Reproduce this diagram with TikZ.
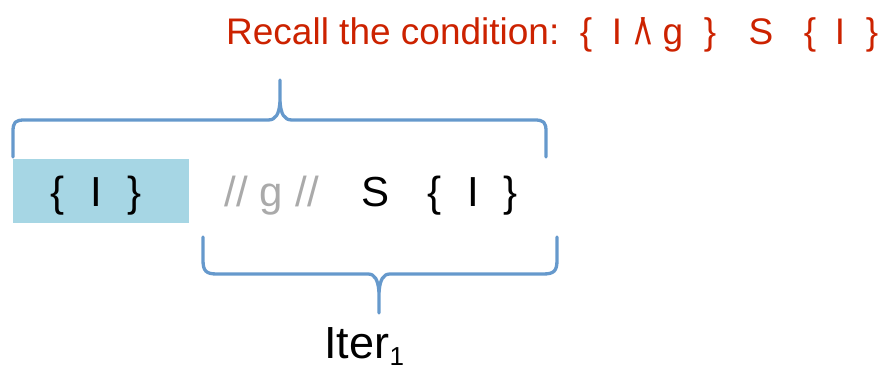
\documentclass[tikz,border=0pt]{standalone}
\usepackage{fontspec}
\setmainfont{Liberation Sans}
\definecolor{braceblue}{RGB}{102,153,204}
\definecolor{boxfill}{RGB}{166,214,228}
\definecolor{recallred}{RGB}{204,34,0}
\definecolor{slashgray}{RGB}{170,170,170}
\tikzset{
  bracestroke/.style={draw=braceblue, line width=3.3pt, line cap=round, line join=round},
  redtok/.style={text=recallred, font=\fontsize{37}{40}\selectfont, inner sep=0pt, anchor=base},
  blacktok/.style={text=black, font=\fontsize{42}{46}\selectfont, inner sep=0pt, anchor=base},
  graytok/.style={text=slashgray, font=\fontsize{42}{46}\selectfont, inner sep=0pt, anchor=base},
}
\begin{document}
\begin{tikzpicture}[x=1pt,y=-1pt]
\useasboundingbox (0,0) rectangle (893,371);
% red condition
\node[redtok, anchor=base west] (recall) at (226,45) {Recall the condition:};
\node[redtok] (r1) at (586,45) {\{};
\node[redtok] (r2) at (617,45) {I};
\node[redtok] (r3) at (643,45) {/\kern-0.12em\textbackslash};
\node[redtok] (r4) at (673,45) {g};
\node[redtok] (r5) at (710,45) {\}};
\node[redtok] (r6) at (761,45) {S};
\node[redtok] (r7) at (810,45) {\{};
\node[redtok] (r8) at (840,45) {I};
\node[redtok] (r9) at (872,45) {\}};
% box
\fill[boxfill] (13,159) rectangle (189,223);
\node[blacktok] (b1) at (58,207) {\{};
\node[blacktok] (b2) at (96,207) {I};
\node[blacktok] (b3) at (135,207) {\}};
\node[graytok] (g1) at (236,207) {//};
\node[graytok] (g2) at (271,207) {g};
\node[graytok] (g3) at (307,207) {//};
\node[blacktok] (s1) at (376,207) {S};
\node[blacktok] (s2) at (435,207) {\{};
\node[blacktok] (s3) at (473,207) {I};
\node[blacktok] (s4) at (511,207) {\}};
% top brace
\draw[bracestroke] (13,157) -- (13,132) .. controls (13,122) and (15,120) .. (25,120)
  -- (268,120) .. controls (276,120) and (279,114) .. (280,102) -- (280,80);
\draw[bracestroke] (280,102) .. controls (281,114) and (284,120) .. (292,120)
  -- (534,120) .. controls (544,120) and (546,122) .. (546,132) -- (546,157);
% bottom brace
\draw[bracestroke] (203,237) -- (203,260) .. controls (203,271) and (206,274) .. (217,274)
  -- (368,274) .. controls (375,274) and (378,280) .. (379,292) -- (379,313);
\draw[bracestroke] (379,292) .. controls (380,280) and (383,274) .. (390,274)
  -- (543,274) .. controls (554,274) and (557,271) .. (557,260) -- (557,237);
% label
\node[text=black, font=\fontsize{45}{50}\selectfont, inner sep=0pt, anchor=base west] (iter) at (324,358) {Iter};
\node[text=black, font=\fontsize{26}{30}\selectfont, inner sep=0pt, anchor=base west] (sub) at (iter.base east) [yshift=-7pt] {1};
\end{tikzpicture}
\end{document}
